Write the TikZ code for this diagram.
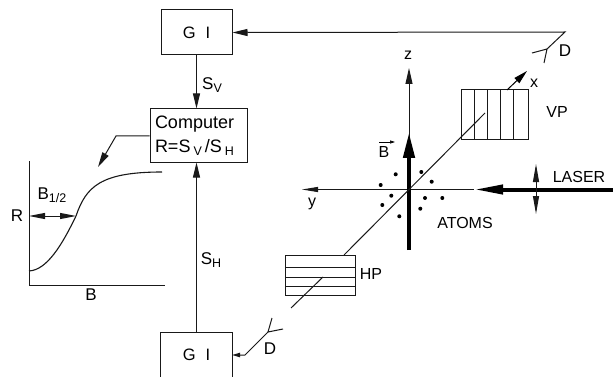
\documentclass[tikz,border=0pt]{standalone}
\usepackage{fontspec}
\setmainfont{Liberation Sans}
\usetikzlibrary{arrows.meta}
\newcommand{\sbt}[1]{\raisebox{-3.5pt}{\fontsize{12.5}{12.5}\selectfont #1}}
\tikzset{
  x=1pt,y=-1pt,
  thinline/.style={line width=1pt,draw=black!90},
  box/.style={draw=black!90,line width=1pt,inner sep=0pt},
  lab/.style={inner sep=0pt,font=\fontsize{16}{18}\selectfont},
  biglab/.style={inner sep=0pt,font=\fontsize{17}{18}\selectfont},
  head/.style={-{Triangle[length=15pt,width=7pt]}},
  smallhead/.style={-{Triangle[length=8pt,width=4.5pt]}},
  dot/.style={circle,fill=black,inner sep=0pt,minimum size=4pt},
}
\begin{document}
\begin{tikzpicture}
\useasboundingbox (0,0) rectangle (613,377);
\fill[white] (0,0) rectangle (613,377);
% boxes
\node[box,minimum width=71pt,minimum height=45pt,font=\fontsize{16.5}{18}\selectfont] (gt) at (196.5,32.5) {G\hspace{10pt}I};
\node[box,minimum width=97pt,minimum height=53pt,text width=87pt,font=\fontsize{18}{24}\selectfont,align=left] (comp) at (198.5,135.5) {Computer\\R=S\,\sbt{V}\,/S\,\sbt{H}};
\node[inner sep=0pt,minimum width=71pt,minimum height=44pt,font=\fontsize{16.5}{18}\selectfont] (gb) at (196.5,355) {G\hspace{10pt}I};
\draw[thinline] (gb.south west) |- (gb.north east) -- (gb.south east);
\draw[thinline,head] (gt.south) -- (gt.south |- comp.north);
\draw[thinline,head] (gb.north) -- (gb.north |- comp.south);
\node[biglab] (sv) at (212,85) {S\sbt{V}};
\node[biglab] (sh) at (211,260) {S\sbt{H}};
% top detector
\coordinate (dt) at (547,49);
\coordinate (dta) at (532,53);
\coordinate (dtb) at (544,63);
\coordinate (dtk) at (565,32);
\draw[thinline,head] (dt) -- (dtk) -- (gt.east);
\draw[thinline] (dta) -- (dt) -- (dtb);
\node[biglab] (dlt) at (565,51) {D};
% bottom detector
\coordinate (db) at (268,332);
\coordinate (dba) at (283,329);
\coordinate (dbb) at (272,318);
\coordinate (dbk) at (245,355);
\draw[thinline,smallhead] (db) -- (dbk) -- (gb.east);
\draw[thinline] (dba) -- (db) -- (dbb);
\node[biglab] (dlb) at (270,349) {D};
% graph
\coordinate (o) at (29,285);
\coordinate (ot) at (29,161);
\coordinate (or) at (165,285);
\draw[line width=1pt,draw=black!90] (ot) -- (o) -- (or);
\coordinate (cv) at (76,216);
\coordinate (ry) at (29,216);
\draw[line width=1.1pt,draw=black!90] (29,271) .. controls (47,270) and (62,245) .. (cv)
  .. controls (86,187) and (100,172) .. (162,172);
\draw[thinline,{Triangle[length=16pt,width=6pt]}-{Triangle[length=16pt,width=6pt]}] (ry) -- (cv);
\coordinate (ca) at (116,136);
\coordinate (cb) at (98,167);
\draw[thinline,head] (comp.west |- ca) -- (ca) -- (cb);
\node[biglab] (lr) at (17,216) {R};
\node[biglab] (lb) at (91,295) {B};
\node[biglab] (lbh) at (52,195) {B\sbt{1/2}};
% axes
\coordinate (c) at (409,189.5);
\coordinate (zt) at (409,68);
\coordinate (yt) at (302,189.5);
\coordinate (bb) at (409,250);
\coordinate (bt) at (409,132);
\coordinate (ls) at (613,189.5);
\coordinate (lt) at (474,189.5);
\draw[thinline,{Triangle[length=16pt,width=7pt]}-] (zt) -- (c);
\draw[thinline,{Triangle[length=16pt,width=5pt]}-] (yt) -- (c) -- (lt);
\draw[line width=4.5pt,-{Triangle[length=26pt,width=11pt]}] (bb) -- (bt);
\draw[line width=4pt,-{Triangle[length=29pt,width=9pt]}] (ls) -- (lt);
\coordinate (pa) at (536,164);
\coordinate (pb) at (536,214);
\draw[thinline,{Triangle[length=18pt,width=6pt]}-{Triangle[length=18pt,width=6pt]}] (pa) -- (pb);
% polarizers
\draw[line width=1pt,draw=black!90] (461,90) rectangle (528,140);
\foreach \xx in {474.5,487,500,513} \draw[thinline] (\xx,90) -- (\xx,140);
\draw[line width=1pt,draw=black!90] (285,255) rectangle (355,295);
\foreach \yy in {267,277,286} \draw[thinline] (285,\yy) -- (355,\yy);
\coordinate (da) at (344,255);
\coordinate (db1) at (323,277);
\coordinate (db2) at (291,308);
\coordinate (dc) at (485,113);
\coordinate (dd) at (507,90);
\coordinate (de) at (527,71);
\draw[thinline] (da) -- (dc);
\draw[thinline] (db1) -- (db2);
\draw[line width=1pt,-{Triangle[length=14pt,width=7pt]}] (dd) -- (de);
% atoms
\foreach \i/\px/\py in {1/395.7/174.3,2/421.3/172,3/431.7/181.7,4/380.7/185,5/391.3/195.7,6/382.3/205,7/425/198,8/442.3/198,9/420.3/208.7,10/399.3/216.3}
  \node[dot] (at\i) at (\px,\py) {};
% labels
\node[lab] (lz) at (408,55) {z};
\node[lab] (lx) at (534,83) {x};
\node[lab] (ly) at (312,204) {y};
\node[lab] (lvp) at (557,112) {VP};
\node[lab] (lhp) at (371,274) {HP};
\node[lab] (llas) at (579,177) {LASER};
\node[lab] (latm) at (465,223) {ATOMS};
\node[lab] (lbv) at (384,152) {B};
\coordinate (bva) at (379,142);
\coordinate (bvb) at (395,142);
\draw[line width=0.7pt,-{Triangle[length=5pt,width=3pt]}] (bva) -- (bvb);
\end{tikzpicture}
\end{document}
